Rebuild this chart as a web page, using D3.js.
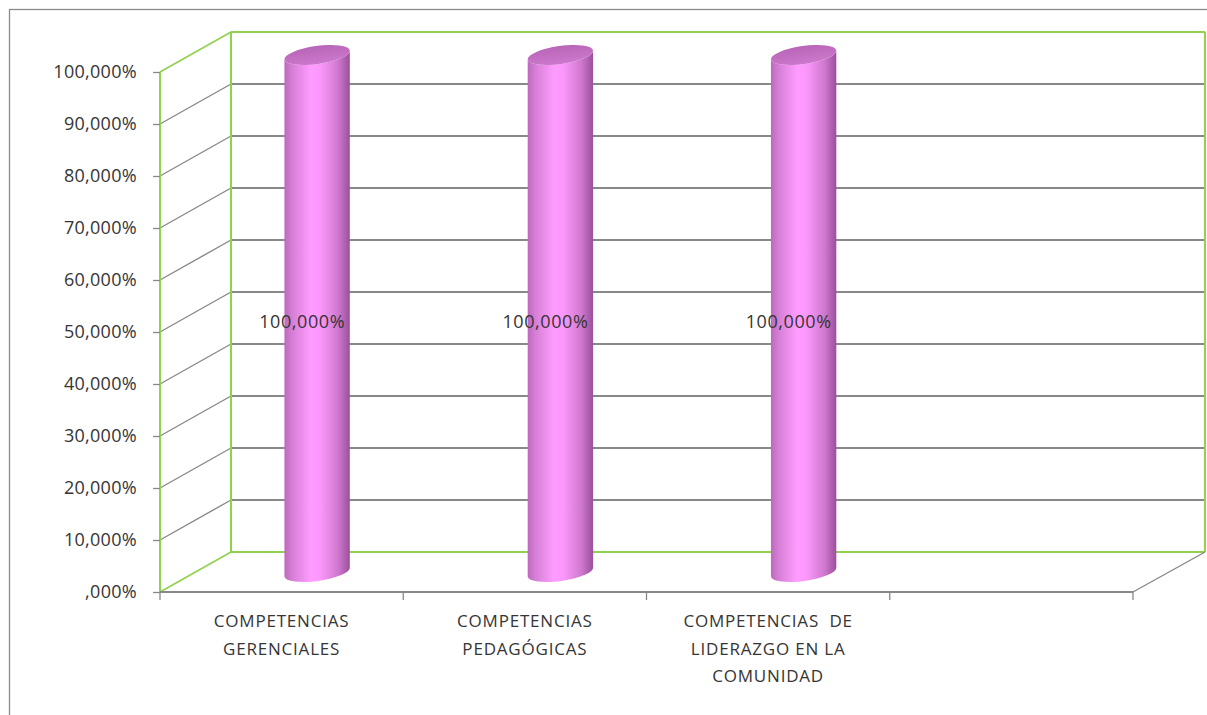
<!DOCTYPE html>
<html>
<head>
<meta charset="utf-8">
<script src="https://cdn.jsdelivr.net/npm/d3@7"></script>
<style>
  html, body { margin: 0; padding: 0; background: #ffffff; }
  svg { display: block; }
  text { font-family: "Open Sans", "Noto Sans", sans-serif; fill: #353535; }
</style>
</head>
<body>
<svg id="chart" width="1207" height="715"></svg>
<script>
// ---- data ----
const categories = [
  ["COMPETENCIAS", "GERENCIALES"],
  ["COMPETENCIAS", "PEDAGÓGICAS"],
  ["COMPETENCIAS  DE", "LIDERAZGO EN LA", "COMUNIDAD"],
  [""]
];
const values = [100, 100, 100, null];
const yTicks = [0, 10, 20, 30, 40, 50, 60, 70, 80, 90, 100];
const yTickLabels = [",000%", "10,000%", "20,000%", "30,000%", "40,000%", "50,000%",
                     "60,000%", "70,000%", "80,000%", "90,000%", "100,000%"];
const dataLabels = ["100,000%", "100,000%", "100,000%", null];

// ---- layout ----
(function () {
const svg = d3.select("#chart");
const pLeft = 160, pRight = 1133, pBottom = 592, pTop = 72;
const depthX = 71, depthY = -40;
const green = "#92d050", grid = "#888888";

const catKeys = categories.map((c, i) => "c" + i);
const x = d3.scaleBand().domain(catKeys).range([pLeft, pRight]);
const y = d3.scaleLinear().domain([0, 100]).range([pBottom, pTop]);

// outer frame
svg.append("rect").attr("x", 9.5).attr("y", 9.5).attr("width", 1220).attr("height", 730)
  .attr("fill", "none").attr("stroke", "#8c8c8c").attr("stroke-width", 1.3);

// back wall gridlines & side wall diagonals
yTicks.forEach(t => {
  const isEdge = (t === 0 || t === 100);
  const col = isEdge ? green : grid;
  svg.append("line")
    .attr("x1", pLeft + depthX).attr("x2", 1205)
    .attr("y1", y(t) + depthY).attr("y2", y(t) + depthY)
    .attr("stroke", col).attr("stroke-width", 2);
  svg.append("line")
    .attr("x1", pLeft).attr("x2", pLeft + depthX)
    .attr("y1", y(t)).attr("y2", y(t) + depthY)
    .attr("stroke", col).attr("stroke-width", isEdge ? 1.6 : 1.4);
});
// wall verticals
svg.append("line").attr("x1", pLeft + depthX).attr("x2", pLeft + depthX)
  .attr("y1", y(100) + depthY).attr("y2", y(0) + depthY).attr("stroke", green).attr("stroke-width", 2);
svg.append("line").attr("x1", 1205).attr("x2", 1205)
  .attr("y1", y(100) + depthY).attr("y2", y(0) + depthY).attr("stroke", green).attr("stroke-width", 2);
svg.append("line").attr("x1", pLeft).attr("x2", pLeft)
  .attr("y1", y(100)).attr("y2", y(0)).attr("stroke", green).attr("stroke-width", 2);

// floor front edge and right diagonal
svg.append("line").attr("x1", pLeft).attr("x2", pRight).attr("y1", pBottom).attr("y2", pBottom)
  .attr("stroke", grid).attr("stroke-width", 2);
svg.append("line").attr("x1", pRight).attr("x2", pRight + depthX + 1).attr("y1", pBottom).attr("y2", pBottom + depthY)
  .attr("stroke", grid).attr("stroke-width", 1.4);

// y axis
const yAxis = d3.axisLeft(y).tickValues(yTicks).tickSize(7).tickPadding(16)
  .tickFormat((d, i) => yTickLabels[i]);
const yg = svg.append("g").attr("transform", `translate(${pLeft},0)`).call(yAxis);
yg.select(".domain").remove();
yg.selectAll(".tick line").attr("stroke", grid).attr("stroke-width", 1.3);
yg.selectAll(".tick text").style("font-size", "18px").attr("fill", "#353535")
  .style("letter-spacing", "0.3px")
  .style("font-family", "'Open Sans', sans-serif");

// x ticks at band boundaries
const bounds = catKeys.map(k => x(k)).concat([pRight]);
svg.selectAll(".xtick").data(bounds).enter().append("line")
  .attr("x1", d => d).attr("x2", d => d).attr("y1", pBottom).attr("y2", pBottom + 8)
  .attr("stroke", grid).attr("stroke-width", 1.3);

// x labels
categories.forEach((lines, i) => {
  const cx = x(catKeys[i]) + x.bandwidth() / 2;
  const t = svg.append("text").attr("text-anchor", "middle")
    .attr("font-size", "17px").style("letter-spacing", "0.8px").style("white-space", "pre");
  lines.forEach((ln, j) => {
    t.append("tspan").attr("x", cx).attr("y", 627 + j * 27.5).text(ln);
  });
});

// cylinder gradients
const defs = svg.append("defs");
const g1 = defs.append("linearGradient").attr("id", "cyl").attr("x1", "0").attr("x2", "1").attr("y1", "0").attr("y2", "0");
[["0%", "#bd68bd"], ["12%", "#d67fd6"], ["40%", "#ff9cff"], ["55%", "#fb97fb"], ["82%", "#cf78cf"], ["100%", "#9b4f9b"]]
  .forEach(([o, c]) => g1.append("stop").attr("offset", o).attr("stop-color", c));
const g2 = defs.append("linearGradient").attr("id", "cyltop").attr("x1", "0").attr("x2", "0").attr("y1", "0").attr("y2", "1");
[["0%", "#b866b8"], ["100%", "#cc78cc"]]
  .forEach(([o, c]) => g2.append("stop").attr("offset", o).attr("stop-color", c));

// cylinders
const rx = 33, ry = 9, rot = -8;
const rad = rot * Math.PI / 180;
values.forEach((v, i) => {
  if (v == null) return;
  const cx = x(catKeys[i]) + x.bandwidth() / 2 + depthX / 2;
  const cyTop = y(v) + depthY / 2 + 3;
  const cyBot = y(0) + depthY / 2;
  const ex = rx * Math.cos(rad), ey = rx * Math.sin(rad);
  const path = `M${cx - ex},${cyTop - ey} L${cx - ex},${cyBot - ey} ` +
    `A${rx},${ry} ${rot} 0 0 ${cx + ex},${cyBot + ey} ` +
    `L${cx + ex},${cyTop + ey} ` +
    `A${rx},${ry} ${rot} 0 1 ${cx - ex},${cyTop - ey} Z`;
  svg.append("path").attr("d", path).attr("fill", "url(#cyl)");
  svg.append("ellipse").attr("cx", cx).attr("cy", cyTop).attr("rx", rx).attr("ry", ry)
    .attr("transform", `rotate(${rot},${cx},${cyTop})`).attr("fill", "url(#cyltop)");
});

// data labels
dataLabels.forEach((lab, i) => {
  if (!lab) return;
  const cx = x(catKeys[i]) + x.bandwidth() / 2 + depthX * 0.29;
  svg.append("text").attr("text-anchor", "middle").attr("x", cx)
    .attr("y", y(values[i] / 2) + depthY / 4 + 6)
    .attr("font-size", "18px").style("letter-spacing", "0.6px").text(lab);
});
})();
</script>
</body>
</html>
